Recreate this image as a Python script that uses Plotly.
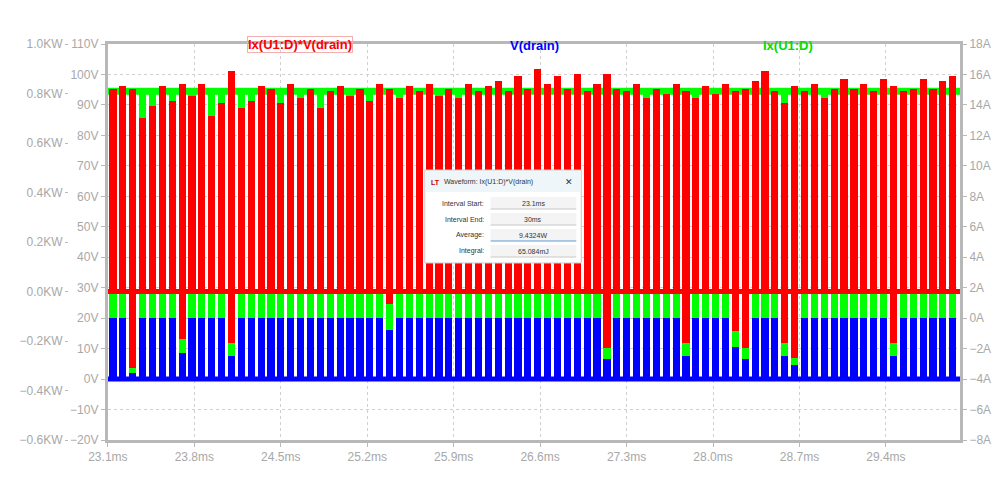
import plotly.graph_objects as go

t0 = 23.1
t1 = 30.0
period = 0.08
bar_w = 0.058
x_ticks = [23.1, 23.8, 24.5, 25.2, 25.9, 26.6, 27.3, 28.0, 28.7, 29.4]
x_tick_labels = ["23.1ms", "23.8ms", "24.5ms", "25.2ms", "25.9ms", "26.6ms", "27.3ms", "28.0ms", "28.7ms", "29.4ms"]

# power pulse peaks (kW), one per switching period
red_peaks = [0.82, 0.83, 0.82, 0.70, 0.75, 0.83, 0.77, 0.84, 0.79, 0.84, 0.71, 0.76, 0.89, 0.74, 0.77,
             0.83, 0.82, 0.76, 0.84, 0.78, 0.82, 0.74, 0.81, 0.83, 0.79, 0.82, 0.77, 0.84, 0.82, 0.78,
             0.83, 0.81, 0.84, 0.79, 0.82, 0.78, 0.84, 0.81, 0.83, 0.85, 0.81, 0.87, 0.82, 0.90, 0.84,
             0.87, 0.82, 0.88, 0.81, 0.84, 0.88, 0.82, 0.81, 0.84, 0.78, 0.82, 0.80, 0.84, 0.81, 0.78,
             0.83, 0.80, 0.84, 0.81, 0.82, 0.85, 0.89, 0.81, 0.76, 0.83, 0.81, 0.84, 0.78, 0.82, 0.86,
             0.82, 0.84, 0.81, 0.86, 0.83, 0.81, 0.82, 0.86, 0.82, 0.85, 0.87]
# negative excursions: pulse index, kW low, A low
neg_idx = [2, 7, 12, 28, 50, 58, 63, 64, 68, 69, 79]
red_low = [-0.31, -0.19, -0.21, -0.05, -0.23, -0.21, -0.16, -0.23, -0.21, -0.27, -0.21]
green_low = [-3.6, -2.3, -2.5, -0.8, -2.7, -2.5, -1.9, -2.7, -2.5, -3.1, -2.5]
green_high = 14.9
blue_high = 20.0

n = len(red_peaks)
xs = [t0 + 0.04 + i * period for i in range(n)]
red_base = [0.0] * n
green_base = [0.0] * n
for k, i in enumerate(neg_idx):
    red_base[i] = red_low[k]
    green_base[i] = green_low[k]

fig = go.Figure()
fig.add_trace(go.Bar(x=xs, y=[blue_high] * n, base=0, width=bar_w, marker_color="#0000ff",
                     marker_line_width=0, yaxis="y2", showlegend=False))
fig.add_trace(go.Scatter(x=[t0, t1], y=[0, 0], mode="lines", line=dict(color="#0000ff", width=5),
                         yaxis="y2", showlegend=False))
fig.add_trace(go.Bar(x=xs, y=[green_high - b for b in green_base], base=green_base, width=bar_w,
                     marker_color="#00ff00", marker_line_width=0, yaxis="y", showlegend=False))
fig.add_trace(go.Scatter(x=[t0, t1], y=[green_high, green_high], mode="lines",
                         line=dict(color="#00ff00", width=7), yaxis="y", showlegend=False))
fig.add_trace(go.Bar(x=xs, y=[p - b for p, b in zip(red_peaks, red_base)], base=red_base, width=bar_w,
                     marker_color="#ff0000", marker_line_width=0, yaxis="y3", showlegend=False))
fig.add_trace(go.Scatter(x=[t0, t1], y=[0, 0], mode="lines", line=dict(color="#ff0000", width=5),
                         yaxis="y3", showlegend=False))

tickfont = dict(family="Liberation Sans", size=12, color="#a8a8a8")
dom0 = 40 / 895
fig.update_layout(
    width=1000, height=500, barmode="overlay", bargap=0,
    paper_bgcolor="white", plot_bgcolor="white",
    margin=dict(l=57, r=48, t=36, b=68),
    xaxis=dict(domain=[dom0, 1], range=[t0, t1], tickvals=x_ticks, ticktext=x_tick_labels,
               tickfont=tickfont, showgrid=True, gridcolor="#d0d0d0", griddash="dot",
               showline=True, linecolor="#b8b8b8", linewidth=3, mirror=True, zeroline=False,
               ticks="outside", tickcolor="#b8b8b8", ticklen=4),
    yaxis3=dict(range=[-0.6, 1.0], dtick=0.2, tickformat=".1f", ticksuffix="KW", tickfont=tickfont,
                anchor="free", position=0, overlaying="y2", showgrid=False, zeroline=False,
                ticks="outside", tickcolor="#b8b8b8", ticklen=3),
    yaxis2=dict(range=[-20, 110], dtick=10, ticksuffix="V", tickfont=tickfont, anchor="x",
                showgrid=True, gridcolor="#d0d0d0", griddash="dot", zeroline=False,
                showline=True, linecolor="#b8b8b8", linewidth=3, ticks="outside",
                tickcolor="#b8b8b8", ticklen=4),
    yaxis=dict(range=[-8, 18], dtick=2, ticksuffix="A", tickfont=tickfont, anchor="x",
               overlaying="y2", side="right", showgrid=False, zeroline=False,
               showline=True, linecolor="#b8b8b8", linewidth=3, ticks="outside",
               tickcolor="#b8b8b8", ticklen=4),
)

def pxx(x):
    return (x - 65) / 895
def pxy(y):
    return (440 - y) / 396

hdr = dict(family="Liberation Sans", size=13)
fig.add_annotation(x=pxx(245), y=pxy(36), xref="paper", yref="paper", text="<b>Ix(U1:D)*V(drain)</b>",
                   showarrow=False, font=dict(color="#ff0000", **hdr), bordercolor="#f0b0b0",
                   borderwidth=1, borderpad=0)
for txt, xp, col in [("V(drain)", 533, "#0000ff"), ("Ix(U1:D)", 815, "#00dd00")]:
    fig.add_annotation(x=pxx(xp), y=pxy(36), xref="paper", yref="paper", text=f"<b>{txt}</b>",
                       showarrow=False, font=dict(color=col, **hdr))

fig.add_shape(type="rect", xref="paper", yref="paper", x0=pxx(423), x1=pxx(580), y0=pxy(263), y1=pxy(170),
              fillcolor="white", line=dict(color="#c8c8c8", width=1))
fig.add_shape(type="rect", xref="paper", yref="paper", x0=pxx(424), x1=pxx(579), y0=pxy(192), y1=pxy(171),
              fillcolor="#eef6fa", line=dict(width=0))
sf = dict(family="Liberation Sans", size=7, color="#333333")
fig.add_annotation(xref="paper", yref="paper", x=pxx(440), y=pxy(182), xanchor="left",
                   text="Waveform: Ix(U1:D)*V(drain)", showarrow=False, font=sf)
fig.add_annotation(xref="paper", yref="paper", x=pxx(427), y=pxy(182), xanchor="left",
                   text="<b>LT</b>", showarrow=False, font=dict(family="Liberation Sans", size=7, color="#c00000"))
fig.add_annotation(xref="paper", yref="paper", x=pxx(568), y=pxy(182), text="✕", showarrow=False,
                   font=dict(family="DejaVu Sans", size=9, color="#333333"))
rows = [("Interval Start:", "23.1ms", 203), ("Interval End:", "30ms", 219),
        ("Average:", "9.4324W", 235), ("Integral:", "65.084mJ", 251)]
for lab, val, yy in rows:
    fig.add_annotation(xref="paper", yref="paper", x=pxx(484), y=pxy(yy), xanchor="right",
                       text=lab, showarrow=False, font=sf)
    fig.add_shape(type="rect", xref="paper", yref="paper", x0=pxx(489), x1=pxx(575),
                  y0=pxy(yy + 6), y1=pxy(yy - 6), fillcolor="#f4f4f4", line=dict(width=0))
    fig.add_shape(type="line", xref="paper", yref="paper", x0=pxx(489), x1=pxx(575),
                  y0=pxy(yy + 6), y1=pxy(yy + 6),
                  line=dict(color="#5b9bd5" if lab == "Average:" else "#c8c8c8", width=1))
    fig.add_annotation(xref="paper", yref="paper", x=pxx(532), y=pxy(yy), text=val,
                       showarrow=False, font=sf)

fig.write_html("out.html")
